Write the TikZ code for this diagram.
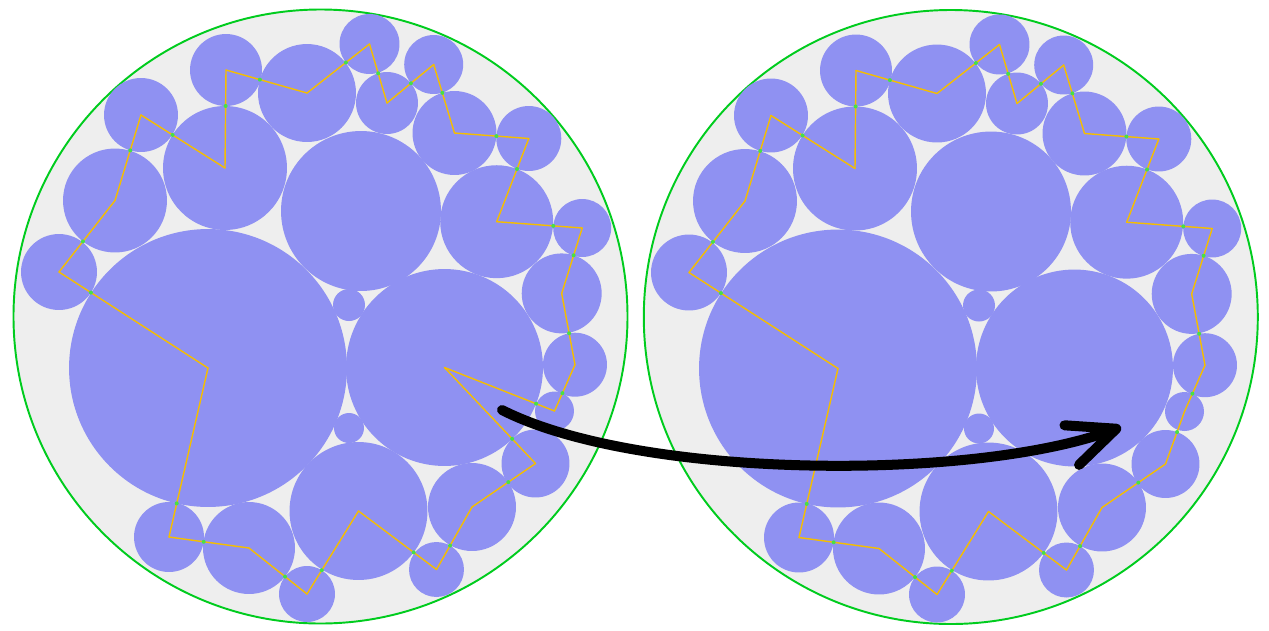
\documentclass[tikz,border=0pt]{standalone}
\usetikzlibrary{arrows.meta,calc}
\definecolor{bubble}{RGB}{143,145,242}
\definecolor{disk}{RGB}{238,238,238}
\definecolor{rim}{RGB}{0,204,30}
\definecolor{gold}{RGB}{245,190,0}
\definecolor{touch}{RGB}{70,225,70}
\tikzset{
  bub/.style={circle,fill=bubble,inner sep=0pt,outer sep=0pt,minimum size=#1*0.04cm},
  outer/.style={circle,fill=disk,draw=rim,line width=1.1pt,inner sep=0pt,outer sep=0pt,
                minimum size=614*0.02cm},
  link/.style={draw=gold,line width=0.8pt,line cap=round},
  tdot/.style={fill=touch},
  bigarr/.style={line width=5.7pt,line cap=round,
                 -{Straight Barb[round,length=27pt,width=24pt]}},
}
% chains of touching bubbles (left keeps t, right skips it)
\def\loopL{t/u,u/v,v/w,w/x,x/y,y/z,z/aa,aa/ab,ab/h,h/g,g/f,f/e,e/d,d/c,c/b,b/a,a/j,j/m,m/n,n/o,o/p,p/q,q/r,r/s,s/t}
\def\loopR{u/v,v/w,w/x,x/y,y/z,z/aa,aa/ab,ab/h,h/g,g/f,f/e,e/d,d/c,c/b,b/a,a/j,j/m,m/n,n/o,o/p,p/q,q/r,r/s,s/u}
\begin{document}
\begin{tikzpicture}[x=0.02cm,y=-0.02cm]
  \useasboundingbox (0,0) rectangle (1269,630);

  % --- the two container disks
  \node[outer] (diskL) at (320.5,316.5) {};
  \node[outer] (diskR) at (950.8,317) {};

  % --- bubbles (same packing in both disks)
  \foreach \n/\x/\y/\r in {a/59/272/38, b/115/200.5/52, c/141/115/37, d/225/168/62,
      e/226/70/36, f/307/93/49, g/369.5/44/30, h/387/103/31, i/361/211/80,
      j/208/368/139, k/349/305/16, l/349/428/15, m/169/537/35, n/249/548/46,
      o/307/594/28, p/358.5/511/69, q/436.5/569.5/27.5, r/472/507/44,
      s/535.5/463.5/34, t/444.5/367.5/98.5, u/554.5/411/19.5, v/575/364.7/32,
      w/561.7/293.4/40, x/582.2/228/29, y/496.7/221.7/56.5, z/528.8/138.5/32.5,
      aa/454.5/133/42, ab/433.7/64.5/29.5}{
    \node[bub=\r] (L\n) at (\x,\y) {};
    \node[bub=\r] (R\n) at (\x+630,\y+0.5) {};
  }

  % --- centre-to-centre links, touching points marked
  \foreach \p/\q in \loopL {
    \draw[link] (L\p.center) -- (L\q.center);
    \path (L\p) -- (L\q) coordinate[pos=0] (tp);
    \fill[tdot] (tp) circle (2);
  }
  \foreach \p/\q in \loopR {
    \draw[link] (R\p.center) -- (R\q.center);
    \path (R\p) -- (R\q) coordinate[pos=0] (tp);
    \fill[tdot] (tp) circle (2);
  }

  % --- arrow from left to right
  \coordinate (from) at (502,410);
  \coordinate (to) at (1121,427);
  \draw[bigarr] (from) .. controls (640,480) and (974,481) .. (to);
\end{tikzpicture}
\end{document}
